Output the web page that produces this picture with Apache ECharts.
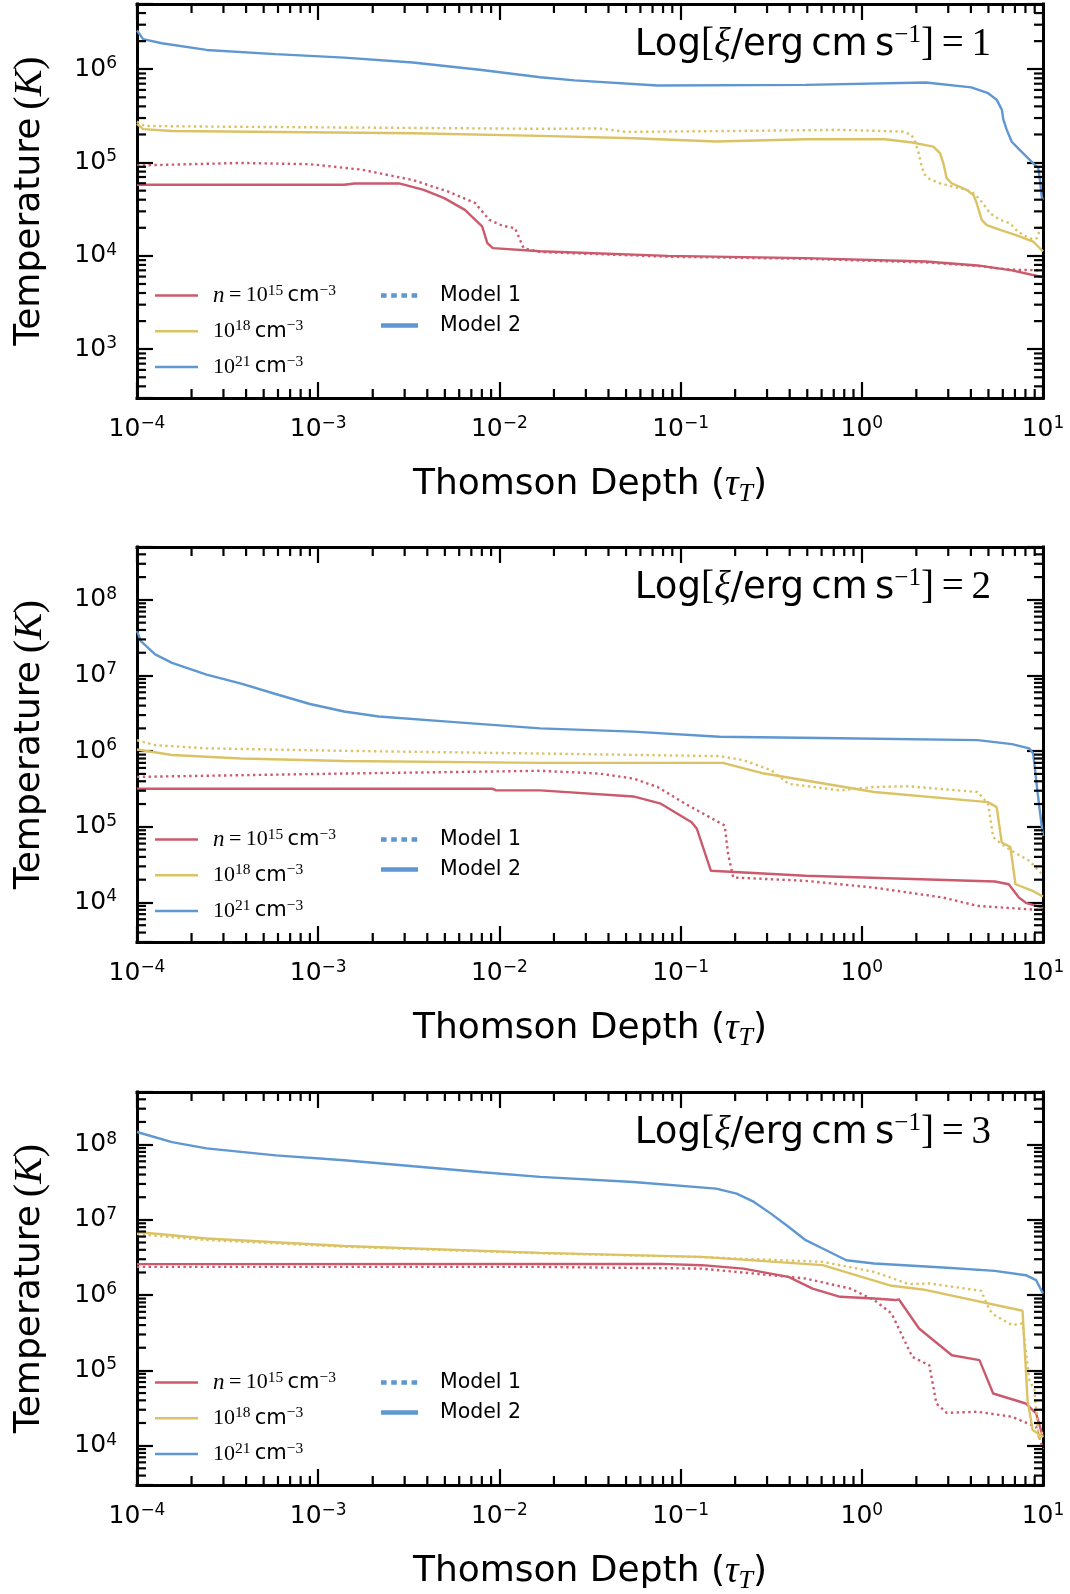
<!DOCTYPE html>
<html><head><meta charset="utf-8">
<script src="https://cdn.jsdelivr.net/npm/echarts@6/dist/echarts.min.js"></script>
<style>html,body{margin:0;padding:0;background:#fff}#c{width:1070px;height:1594px}</style>
</head><body><div id="c"></div>
<script>
// ---------------- data (Thomson depth tau_T, temperature K) ----------------
const X_MAJOR_TICKS = [1e-4, 1e-3, 1e-2, 1e-1, 1, 10];
const MINOR_MANTISSAS = [2, 3, 4, 5, 6, 7, 8, 9];
const DENSITY_LABELS = ['n = 10^15 cm^-3', '10^18 cm^-3', '10^21 cm^-3'];
const MODEL_LABELS = ['Model 1', 'Model 2'];
const XI_VALUES = ['1', '2', '3'];

// Log xi = 1
const XI1_N15_M1 = [[1e-4,9.3e4],[3.75e-4,9.9e4],[9e-4,9.6e4],[1.73e-3,8.4e4],[3.33e-3,6.5e4],[5.19e-3,4.9e4],[7.35e-3,3.68e4],[8.77e-3,2.44e4],[0.0104,2.1e4],[0.0122,1.98e4],[0.0136,1.21e4],[0.0168,1.1e4],[0.085,9.8e3],[0.489,9.3e3],[2.26,8.5e3],[4.36,7.8e3],[6.74,7.1e3],[10,7.0e3]];
const XI1_N15_M2 = [[1e-4,5.78e4],[1.39e-3,5.78e4],[1.59e-3,5.97e4],[2.8e-3,5.97e4],[3.82e-3,5.1e4],[4.96e-3,4.16e4],[6.45e-3,3.11e4],[8.03e-3,2.07e4],[8.58e-3,1.37e4],[9.2e-3,1.21e4],[0.0168,1.12e4],[0.085,1.0e4],[0.489,9.47e3],[2.26,8.7e3],[4.36,7.9e3],[6.74,7.0e3],[10,5.9e3]];
const XI1_N18_M1 = [[1e-4,2.75e5],[1.1e-4,2.47e5],[2.42e-4,2.43e5],[0.0168,2.3e5],[0.0354,2.32e5],[0.0502,2.13e5],[0.315,2.2e5],[0.759,2.24e5],[1.67,2.15e5],[1.88,1.98e5],[1.97,1.67e5],[2.06,1.26e5],[2.14,9.0e4],[2.23,7.4e4],[2.38,6.6e4],[2.7,6.0e4],[3.2,5.5e4],[3.79,5.1e4],[4.13,4.7e4],[4.49,4.0e4],[4.79,3.4e4],[5.1,2.86e4],[5.8,2.43e4],[6.58,2.24e4],[7.1,1.9e4],[7.78,1.67e4],[8.81,1.5e4],[9.22,1.54e4],[9.62,1.9e4],[10,2.2e4]];
const XI1_N18_M2 = [[1e-4,2.6e5],[1.08e-4,2.28e5],[1.56e-4,2.18e5],[3.35e-3,2.06e5],[0.0168,1.93e5],[0.055,1.82e5],[0.157,1.68e5],[0.489,1.78e5],[1.34,1.78e5],[1.9,1.64e5],[2.48,1.48e5],[2.7,1.26e5],[2.82,9.8e4],[2.94,6.8e4],[3.13,6.0e4],[3.79,5.1e4],[4.13,4.5e4],[4.31,3.66e4],[4.59,2.43e4],[4.89,2.14e4],[5.8,1.9e4],[7.1,1.67e4],[8.83,1.42e4],[9.4,1.26e4],[10,1.12e4]];
const XI1_N21_M2 = [[1e-4,2.6e6],[1.08e-4,2.1e6],[1.37e-4,1.9e6],[2.42e-4,1.61e6],[5.8e-4,1.45e6],[1.39e-3,1.33e6],[3.33e-3,1.18e6],[8.0e-3,9.8e5],[0.0168,8.2e5],[0.026,7.6e5],[0.0745,6.7e5],[0.489,6.8e5],[2.26,7.2e5],[4.02,6.4e5],[4.98,5.53e5],[5.56,4.69e5],[5.93,3.67e5],[6.04,2.9e5],[6.31,2.24e5],[6.72,1.67e5],[7.46,1.36e5],[8.84,9.8e4],[9.42,8.7e4],[9.62,6.5e4],[9.84,4.3e4],[10,4.0e4]];

// Log xi = 2
const XI2_N15_M1 = [[1e-4,4.57e5],[1.39e-3,5.06e5],[0.0168,5.5e5],[0.0354,5.06e5],[0.0548,4.35e5],[0.0745,3.36e5],[0.106,2.02e5],[0.175,1.04e5],[0.183,4.37e4],[0.195,2.14e4],[0.49,1.93e4],[1.17,1.57e4],[2.81,1.16e4],[4.36,9.0e3],[10,7.9e3]];
const XI2_N15_M2 = [[1e-4,3.19e5],[9.16e-3,3.19e5],[9.57e-3,3.03e5],[0.0168,3.03e5],[0.0548,2.52e5],[0.0778,2.02e5],[0.115,1.15e5],[0.123,9.4e4],[0.147,2.62e4],[0.49,2.25e4],[5.43,1.89e4],[6.47,1.74e4],[7.36,1.16e4],[8.04,9.9e3],[10,8.5e3]];
const XI2_N18_M1 = [[1e-4,1.4e6],[1.26e-4,1.2e6],[2.42e-4,1.09e6],[1.39e-3,1.01e6],[0.0168,9.3e5],[0.164,8.6e5],[0.223,7.6e5],[0.316,5.6e5],[0.394,3.7e5],[0.759,3.03e5],[1.17,3.36e5],[1.82,3.43e5],[4.36,2.88e5],[4.97,2.02e5],[5.31,7.3e4],[5.92,5.9e4],[6.74,4.8e4],[8.39,3.56e4],[10,2.3e4]];
const XI2_N18_M2 = [[1e-4,1.05e6],[1.56e-4,8.9e5],[3.76e-4,8.0e5],[1.39e-3,7.4e5],[0.0168,7.0e5],[0.171,7.0e5],[0.289,5.06e5],[1.17,2.88e5],[4.97,2.12e5],[5.55,1.82e5],[5.92,6.2e4],[6.61,5.4e4],[7.05,1.74e4],[8.77,1.42e4],[10,1.2e4]];
const XI2_N21_M2 = [[1e-4,3.9e7],[1.05e-4,2.85e7],[1.26e-4,1.9e7],[1.56e-4,1.47e7],[2.42e-4,1.03e7],[3.76e-4,7.8e6],[5.82e-4,5.7e6],[9.0e-4,4.2e6],[1.39e-3,3.34e6],[2.16e-3,2.87e6],[5.19e-3,2.46e6],[0.0168,2.0e6],[0.0548,1.81e6],[0.164,1.55e6],[0.757,1.48e6],[4.36,1.4e6],[6.74,1.24e6],[8.39,1.09e6],[8.83,9.3e5],[9.35,2.74e5],[10,7.5e4]];

// Log xi = 3
const XI3_N15_M1 = [[1e-4,2.37e6],[0.0168,2.37e6],[0.131,2.25e6],[0.316,1.84e6],[0.49,1.66e6],[0.865,1.22e6],[1.17,8.6e5],[1.46,5.7e5],[1.9,1.51e5],[2.36,1.17e5],[2.58,3.63e4],[2.94,2.73e4],[4.36,2.82e4],[6.74,2.42e4],[9.16,1.78e4],[10,9.0e3]];
const XI3_N15_M2 = [[1e-4,2.58e6],[0.078,2.6e6],[0.131,2.5e6],[0.222,2.25e6],[0.394,1.75e6],[0.535,1.22e6],[0.759,9.5e5],[1.17,9.0e5],[1.53,8.6e5],[1.6,8.8e5],[2.07,3.6e5],[3.14,1.59e5],[4.46,1.37e5],[5.31,4.93e4],[8.04,3.63e4],[9.16,2.68e4],[10,1.3e4]];
const XI3_N18_M1 = [[1e-4,6.45e6],[2.42e-4,5.4e6],[1.39e-3,4.4e6],[0.0168,3.6e6],[0.131,3.2e6],[0.608,2.77e6],[1.17,2.04e6],[1.82,1.4e6],[2.36,1.43e6],[4.56,1.14e6],[5.08,6.3e5],[5.43,5.4e5],[6.74,4.0e5],[7.71,4.2e5],[8.41,7.4e4],[8.97,5.5e4],[9.5,1.18e4],[10,1.6e4]];
const XI3_N18_M2 = [[1e-4,6.9e6],[2.42e-4,5.65e6],[1.39e-3,4.5e6],[0.0168,3.64e6],[0.131,3.22e6],[0.608,2.5e6],[1.46,1.33e6],[2.17,1.19e6],[7.71,6.2e5],[8.22,4.03e4],[8.77,1.61e4],[10,1.3e4]];
const XI3_N21_M2 = [[1e-4,1.47e8],[1.56e-4,1.08e8],[2.42e-4,8.9e7],[5.82e-4,7.2e7],[1.39e-3,6.2e7],[3.35e-3,5.15e7],[8.04e-3,4.3e7],[0.0168,3.72e7],[0.0548,3.19e7],[0.157,2.6e7],[0.204,2.23e7],[0.254,1.73e7],[0.315,1.21e7],[0.394,8.1e6],[0.49,5.37e6],[0.608,4.16e6],[0.822,2.91e6],[1.17,2.63e6],[2.81,2.33e6],[5.42,2.1e6],[8.04,1.84e6],[9.16,1.58e6],[10,1.05e6]];

// ---------------- styling / layout ----------------
const RED = '#cc5a6d', YEL = '#dbc365', BLU = '#5e97d1';
const SANS = 'DejaVu Sans', SERIF = 'Liberation Serif';
const XMIN = 1e-4, XMAX = 10;
const GRID_LEFT = 137, GRID_W = 906;
const PANELS = [
  {top: 4,    height: 394, yMin: 300,  yMax: 5e6, xi: XI_VALUES[0], lines: [XI1_N15_M1, XI1_N15_M2, XI1_N18_M1, XI1_N18_M2, XI1_N21_M2]},
  {top: 547,  height: 395, yMin: 3000, yMax: 5e8, xi: XI_VALUES[1], lines: [XI2_N15_M1, XI2_N15_M2, XI2_N18_M1, XI2_N18_M2, XI2_N21_M2]},
  {top: 1092, height: 393, yMin: 3000, yMax: 5e8, xi: XI_VALUES[2], lines: [XI3_N15_M1, XI3_N15_M2, XI3_N18_M1, XI3_N18_M2, XI3_N21_M2]}
];
const LINE_STYLES = [
  {color: RED, dot: true}, {color: RED, dot: false},
  {color: YEL, dot: true}, {color: YEL, dot: false},
  {color: BLU, dot: false}
];
const MAJOR_LEN = 16, MINOR_LEN = 9, TICK_W = 2.2, FRAME_W = 3;

function minorValues(lo, hi) {
  const out = [];
  for (let e = Math.floor(Math.log10(lo)) - 1; e <= Math.ceil(Math.log10(hi)); e++) {
    for (const m of MINOR_MANTISSAS) {
      const v = m * Math.pow(10, e);
      if (v > lo * 1.0001 && v < hi * 0.9999) out.push(v);
    }
  }
  return out;
}
function powLabel(v) {
  const e = Math.log10(v);
  const r = Math.round(e);
  if (Math.abs(e - r) > 1e-6) return '';
  return '{a|10}{b|' + String(r).replace('-', '\u2212') + '}';
}
const tickRich = {
  a: {fontFamily: SANS, fontSize: 25, lineHeight: 28, color: '#000'},
  b: {fontFamily: SANS, fontSize: 17, lineHeight: 19, verticalAlign: 'top', color: '#000'}
};

const grids = [], xAxes = [], yAxes = [], series = [], graphics = [];
PANELS.forEach((p, i) => {
  grids.push({left: GRID_LEFT, top: p.top, width: GRID_W, height: p.height, containLabel: false, outerBoundsMode: 'none'});
  const axLine = {show: true, onZero: false, lineStyle: {color: '#000', width: FRAME_W, cap: 'square'}};
  const axTick = {show: true, inside: true, length: MAJOR_LEN, lineStyle: {color: '#000', width: TICK_W}};
  const xCommon = {type: 'log', logBase: 10, min: XMIN, max: XMAX, gridIndex: i, splitLine: {show: false},
    axisLine: axLine, axisTick: axTick, minorTick: {show: false}, minorSplitLine: {show: false}};
  xAxes.push(Object.assign({}, xCommon, {
    position: 'bottom',
    axisLabel: {show: true, margin: 17, formatter: powLabel, rich: tickRich, showMinLabel: true, showMaxLabel: true, hideOverlap: false},
    name: '{s|Thomson Depth (}{t|\u03c4}{u|T}{s|)}',
    nameLocation: 'middle', nameGap: 65,
    nameTextStyle: {rich: {
      s: {fontFamily: SANS, fontSize: 36, lineHeight: 44, color: '#000'},
      t: {fontFamily: SERIF, fontStyle: 'italic', fontSize: 38, lineHeight: 44, color: '#000'},
      u: {fontFamily: SERIF, fontStyle: 'italic', fontSize: 26, lineHeight: 26, verticalAlign: 'bottom', color: '#000'}
    }}
  }));
  xAxes.push(Object.assign({}, xCommon, {position: 'top', axisLabel: {show: false}}));
  const yCommon = {type: 'log', logBase: 10, min: p.yMin, max: p.yMax, gridIndex: i, splitLine: {show: false},
    axisLine: axLine, axisTick: axTick, minorTick: {show: false}, minorSplitLine: {show: false}};
  yAxes.push(Object.assign({}, yCommon, {
    position: 'left',
    axisLabel: {show: true, margin: 20, formatter: powLabel, rich: tickRich, showMinLabel: true, showMaxLabel: true},
    name: '{s|Temperature}{p|\u2009(}{k|K}{p|)}',
    nameLocation: 'middle', nameRotate: 90, nameGap: 85,
    nameTextStyle: {rich: {
      s: {fontFamily: SANS, fontSize: 36, lineHeight: 44, color: '#000'},
      p: {fontFamily: SERIF, fontSize: 40, lineHeight: 44, color: '#000'},
      k: {fontFamily: SERIF, fontStyle: 'italic', fontSize: 40, lineHeight: 44, color: '#000'}
    }}
  }));
  yAxes.push(Object.assign({}, yCommon, {position: 'right', axisLabel: {show: false}}));

  // data lines
  p.lines.forEach((d, k) => {
    const st = LINE_STYLES[k];
    series.push({
      type: 'line', xAxisIndex: 2 * i, yAxisIndex: 2 * i, data: d,
      symbol: 'none', showSymbol: false, smooth: false, silent: true, animation: false, z: 2 + k,
      lineStyle: {color: st.color, width: 2.4, type: st.dot ? [2.4, 3.4] : 'solid', cap: 'butt'}
    });
  });

  // minor ticks (x, on bottom and top)
  series.push({
    type: 'custom', xAxisIndex: 2 * i, yAxisIndex: 2 * i, silent: true, animation: false, z: 20,
    data: minorValues(XMIN, XMAX).map(v => [v, p.yMin]),
    renderItem: (params, api) => {
      const cs = params.coordSys;
      const x = api.coord([api.value(0), api.value(1)])[0];
      const yb = cs.y + cs.height, yt = cs.y;
      return {type: 'group', children: [
        {type: 'line', shape: {x1: x, y1: yb, x2: x, y2: yb - MINOR_LEN}, style: {stroke: '#000', lineWidth: TICK_W}},
        {type: 'line', shape: {x1: x, y1: yt, x2: x, y2: yt + MINOR_LEN}, style: {stroke: '#000', lineWidth: TICK_W}}
      ]};
    }
  });
  // minor ticks (y, on left and right)
  series.push({
    type: 'custom', xAxisIndex: 2 * i, yAxisIndex: 2 * i, silent: true, animation: false, z: 20,
    data: minorValues(p.yMin, p.yMax).map(v => [XMIN, v]),
    renderItem: (params, api) => {
      const cs = params.coordSys;
      const y = api.coord([api.value(0), api.value(1)])[1];
      const xl = cs.x, xr = cs.x + cs.width;
      return {type: 'group', children: [
        {type: 'line', shape: {x1: xl, y1: y, x2: xl + MINOR_LEN, y2: y}, style: {stroke: '#000', lineWidth: TICK_W}},
        {type: 'line', shape: {x1: xr, y1: y, x2: xr - MINOR_LEN, y2: y}, style: {stroke: '#000', lineWidth: TICK_W}}
      ]};
    }
  });

  // panel annotation
  graphics.push({
    type: 'text', x: 991, y: p.top + 41, z: 50,
    style: {
      text: '{s|Log}{r|[}{i|\u03be}{s|/erg\u2009cm\u2009s}{sup|\u22121}{r|]\u2009=\u2009' + p.xi + '}',
      align: 'right', verticalAlign: 'middle', textAlign: 'right', textVerticalAlign: 'middle',
      rich: {
        s: {fontFamily: SANS, fontSize: 37, lineHeight: 44, fill: '#000'},
        r: {fontFamily: SERIF, fontSize: 39, lineHeight: 44, fill: '#000'},
        i: {fontFamily: SERIF, fontStyle: 'italic', fontSize: 39, lineHeight: 44, fill: '#000'},
        sup: {fontFamily: SERIF, fontSize: 25, lineHeight: 32, verticalAlign: 'top', fill: '#000'}
      }
    }
  });

  // legends
  const B = p.top + p.height;
  const denY = [B - 102.5, B - 66.8, B - 31];
  const denCol = [RED, YEL, BLU];
  const denText = [
    '{i|n}{r|\u2009=\u200910}{u|15}{s|\u2009cm}{u|\u22123}',
    '{r|10}{u|18}{s|\u2009cm}{u|\u22123}',
    '{r|10}{u|21}{s|\u2009cm}{u|\u22123}'
  ];
  const legRich = {
    i: {fontFamily: SERIF, fontStyle: 'italic', fontSize: 23, lineHeight: 26, fill: '#000'},
    r: {fontFamily: SERIF, fontSize: 22, lineHeight: 26, fill: '#000'},
    s: {fontFamily: SANS, fontSize: 21, lineHeight: 26, fill: '#000'},
    u: {fontFamily: SERIF, fontSize: 15.5, lineHeight: 20, verticalAlign: 'top', fill: '#000'}
  };
  for (let k = 0; k < 3; k++) {
    graphics.push({type: 'line', z: 50, shape: {x1: 155, y1: denY[k], x2: 198, y2: denY[k]}, style: {stroke: denCol[k], lineWidth: 2.6}});
    graphics.push({type: 'text', z: 50, x: 213, y: denY[k], style: {text: denText[k], rich: legRich,
      align: 'left', verticalAlign: 'middle', textAlign: 'left', textVerticalAlign: 'middle'}});
  }
  const modY = [B - 102.5, B - 72.5];
  graphics.push({type: 'line', z: 50, shape: {x1: 381, y1: modY[0], x2: 418, y2: modY[0]}, style: {stroke: BLU, lineWidth: 4.6, lineDash: [5.6, 4.6]}});
  graphics.push({type: 'line', z: 50, shape: {x1: 381, y1: modY[1], x2: 418, y2: modY[1]}, style: {stroke: BLU, lineWidth: 4.6}});
  for (let k = 0; k < 2; k++) {
    graphics.push({type: 'text', z: 50, x: 440, y: modY[k], style: {text: MODEL_LABELS[k], fontFamily: SANS, fontSize: 20.5, fill: '#000',
      font: '20.5px "DejaVu Sans"', align: 'left', verticalAlign: 'middle', textAlign: 'left', textVerticalAlign: 'middle'}});
  }
});

const chart = echarts.init(document.getElementById('c'), null, {renderer: 'canvas'});
chart.setOption({
  animation: false,
  backgroundColor: '#fff',
  textStyle: {fontFamily: SANS},
  grid: grids, xAxis: xAxes, yAxis: yAxes, series: series,
  graphic: {elements: graphics}
});
</script></body></html>
